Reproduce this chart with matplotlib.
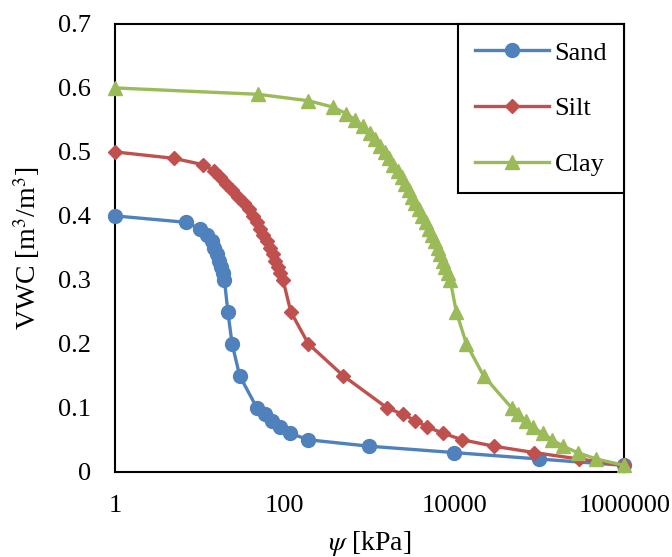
import numpy as np
import matplotlib.pyplot as plt
from matplotlib.ticker import FixedLocator, FixedFormatter, NullLocator

plt.rcParams.update({'font.family': 'Liberation Serif', 'font.size': 19,
                     'mathtext.fontset': 'stix'})

# suction (kPa), one entry per marker
sand_psi = [1, 6.8, 10, 12.3, 13.8, 14.8, 15.8, 17.0, 17.8, 18.6, 19.5, 21.4, 24, 29.5,
            47, 58, 71, 87, 117, 190, 980, 10000, 98000, 1000000]
sand_vwc = [0.40, 0.39, 0.38, 0.37, 0.36, 0.35, 0.34, 0.33, 0.32, 0.31, 0.30, 0.25, 0.20, 0.15,
            0.10, 0.09, 0.08, 0.07, 0.06, 0.05, 0.04, 0.03, 0.02, 0.01]

silt_psi = [1, 4.9, 11, 14.8, 17.4, 20.4, 24, 28.2, 33, 38, 42.7, 46.8, 51.3, 56.2, 61.7,
            67.6, 72.4, 77.6, 83.2, 89.1, 95.5, 118, 190, 490, 1600, 2450, 3470, 4800,
            7400, 12400, 29000, 87000, 290000, 1000000]
silt_vwc = [0.50, 0.49, 0.48, 0.47, 0.46, 0.45, 0.44, 0.43, 0.42, 0.41, 0.40, 0.39, 0.38,
            0.37, 0.36, 0.35, 0.34, 0.33, 0.32, 0.31, 0.30, 0.25, 0.20, 0.15, 0.10, 0.09,
            0.08, 0.07, 0.06, 0.05, 0.04, 0.03, 0.02, 0.01]

clay_psi = [1, 49, 190, 370, 525, 676, 832, 1000, 1150, 1320, 1510, 1700, 1900, 2140,
            2400, 2630, 2880, 3160, 3470, 3800, 4170, 4570, 5010, 5370, 5890, 6310, 6760,
            7240, 7760, 8320, 8900, 10500, 13800, 22000, 47000, 56000, 69000, 83000,
            110000, 141000, 190000, 282000, 468000, 1000000]
clay_vwc = [0.60, 0.59, 0.58, 0.57, 0.56, 0.55, 0.54, 0.53, 0.52, 0.51, 0.50, 0.49, 0.48,
            0.47, 0.46, 0.45, 0.44, 0.43, 0.42, 0.41, 0.40, 0.39, 0.38, 0.37, 0.36, 0.35,
            0.34, 0.33, 0.32, 0.31, 0.30, 0.25, 0.20, 0.15, 0.10, 0.09, 0.08, 0.07, 0.06,
            0.05, 0.04, 0.03, 0.02, 0.01]

x_ticks = [1, 100, 10000, 1000000]
x_ticklabels = ["1", "100", "10000", "1000000"]
y_ticks = [0, 0.1, 0.2, 0.3, 0.4, 0.5, 0.6, 0.7]
y_ticklabels = ["0", "0.1", "0.2", "0.3", "0.4", "0.5", "0.6", "0.7"]

fig = plt.figure(figsize=(6.72, 5.57), dpi=100)
ax = fig.add_axes([0.171, 0.153, 0.758, 0.804])

ax.plot(sand_psi, sand_vwc, color="#4F81BD", lw=2.4, marker="o", ms=10, label="Sand", clip_on=False, zorder=3)
ax.plot(silt_psi, silt_vwc, color="#C0504D", lw=2.4, marker="D", ms=7.5, label="Silt", clip_on=False, zorder=3)
ax.plot(clay_psi, clay_vwc, color="#9BBB59", lw=2.4, marker="^", ms=10, label="Clay", clip_on=False, zorder=3)

ax.set_xscale("log")
ax.set_xlim(1, 1000000)
ax.set_ylim(0, 0.7)
ax.xaxis.set_major_locator(FixedLocator(x_ticks))
ax.xaxis.set_major_formatter(FixedFormatter(x_ticklabels))
ax.xaxis.set_minor_locator(NullLocator())
ax.set_yticks(y_ticks)
ax.set_yticklabels(y_ticklabels)
ax.tick_params(length=0)
ax.tick_params(axis="y", pad=17)
ax.tick_params(axis="x", pad=17)

for s in ax.spines.values():
    s.set_linewidth(1.5)
    s.set_color("black")

ax.set_xlabel(r"$\psi$ [kPa]", labelpad=8, fontsize=20)
ax.set_ylabel(r"VWC [m$^3$/m$^3$]", labelpad=12, fontsize=20)

leg = ax.legend(loc="upper right", bbox_to_anchor=(1.0, 1.0), borderaxespad=0,
                fancybox=False, edgecolor="black", framealpha=1, handlelength=2.8,
                labelspacing=1.22, borderpad=0.65, handletextpad=0.2)
leg.get_frame().set_linewidth(1.5)
leg.set_zorder(5)

fig.savefig("out.png", dpi=100)
